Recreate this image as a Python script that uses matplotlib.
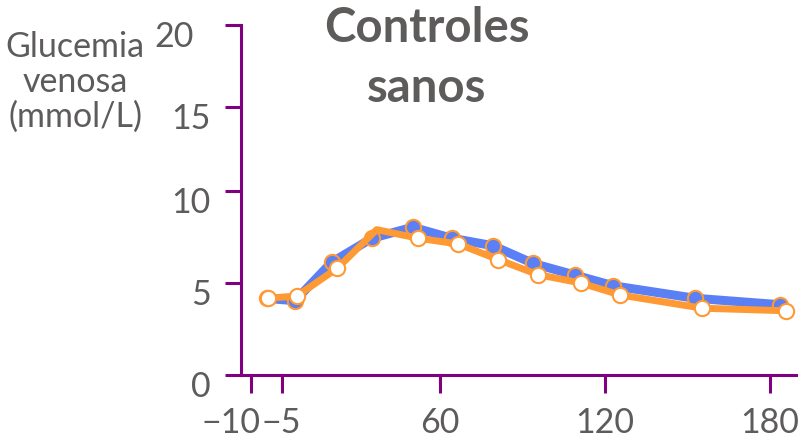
import numpy as np
import matplotlib
matplotlib.use("Agg")
import matplotlib.pyplot as plt
from matplotlib.transforms import ScaledTranslation

plt.rcParams['font.family'] = ['Lato', 'DejaVu Sans']

# minutes (the orange series is drawn slightly dodged)
t_blue = [-7.4, 0.5, 15.5, 32.0, 48.8, 64.3, 79.2, 93.9, 109.1, 123.0, 152.7, 183.6]
g_blue = [4.16, 4.04, 6.12, 7.43, 8.03, 7.43, 7.03, 6.06, 5.43, 4.85, 4.17, 3.82]
t_orange = [-7.2, 1.2, 17.8, 34.0, 51.1, 66.7, 81.2, 95.5, 111.2, 125.5, 155.4, 185.8]
g_orange = [4.18, 4.29, 5.80, 7.90, 7.43, 7.12, 6.27, 5.46, 5.00, 4.35, 3.63, 3.49]
# the orange marker at index 3 is not drawn in the original
orange_marks = [0, 1, 2, 4, 5, 6, 7, 8, 9, 10, 11]

xticks = [-10, -5, 60, 120, 180]
xticklabels = ['\u221210', '\u22125', '60', '120', '180']
yticks = [0, 5, 10, 15, 20]

blue = '#5B7FF5'
orange = '#FF9933'
purple = '#800080'
grey = '#5E5B5B'

# the original axes are not evenly spaced, so use piecewise scales
xv = [-30, -10, -5, 60, 120, 180, 300]
xp = [128.2, 251, 281.7, 440, 605, 770, 1100]
yv = [-10, 0, 5, 10, 15, 20, 40]
yp = [-121, 63, 155, 247, 331, 413, 577]

def xf(x):
    return np.interp(x, xv, xp)

def xi(p):
    return np.interp(p, xp, xv)

def yf(y):
    return np.interp(y, yv, yp)

def yi(p):
    return np.interp(p, yp, yv)

W, H = 798, 439
fig = plt.figure(figsize=(W/100, H/100), dpi=100)
ax = fig.add_axes([240.7/W, 63/H, (W - 240.7)/W, 350/H])
ax.set_xscale('function', functions=(xf, xi))
ax.set_yscale('function', functions=(yf, yi))
ax.set_xlim(xi(240.7), xi(798))
ax.set_ylim(0, 20)

ax.plot(t_blue, g_blue, '-', color=blue, lw=6.5, solid_capstyle='round', zorder=2)
ax.plot(t_blue, g_blue, 'o', ms=11, mfc=blue, mec=orange, mew=1.5, zorder=3)
ax.plot(t_orange, g_orange, '-', color=orange, lw=5, solid_capstyle='round', zorder=4)
ax.plot(np.array(t_orange)[orange_marks], np.array(g_orange)[orange_marks], 'o',
        ms=11, mfc='white', mec=orange, mew=1.5, zorder=5)

for s in ['top', 'right']:
    ax.spines[s].set_visible(False)
for s in ['left', 'bottom']:
    ax.spines[s].set_color(purple)
    ax.spines[s].set_linewidth(2.2)

ax.set_xticks(xticks, xticklabels)
ax.set_yticks(yticks, [str(v) for v in yticks])
ax.tick_params(axis='both', colors=purple, labelcolor=grey, labelsize=24.5, width=2.2)
ax.tick_params(axis='y', length=11.5, pad=10)
ax.tick_params(axis='x', length=13, pad=9)
ax.minorticks_off()

# nudge a few labels where the original has them
for tk in ax.yaxis.get_major_ticks():
    dx = -17 if tk.label1.get_text() == '20' else 0
    tk.label1.set_transform(tk.label1.get_transform() +
                            ScaledTranslation(dx/100, -8/100, fig.dpi_scale_trans))
for tk in ax.xaxis.get_major_ticks():
    if tk.label1.get_text() == '\u221210':
        tk.label1.set_transform(tk.label1.get_transform() +
                                ScaledTranslation(-20/100, 0, fig.dpi_scale_trans))

fig.text(75/W, 1 - 82/H, 'Glucemia\nvenosa\n(mmol/L)', ha='center', va='center',
         fontsize=24.5, color=grey, linespacing=1.12)
fig.text(427/W, 1 - 58/H, 'Controles\nsanos', ha='center', va='center',
         fontsize=34, fontweight='bold', color=grey, linespacing=1.42)

fig.savefig('out.png', dpi=100)
